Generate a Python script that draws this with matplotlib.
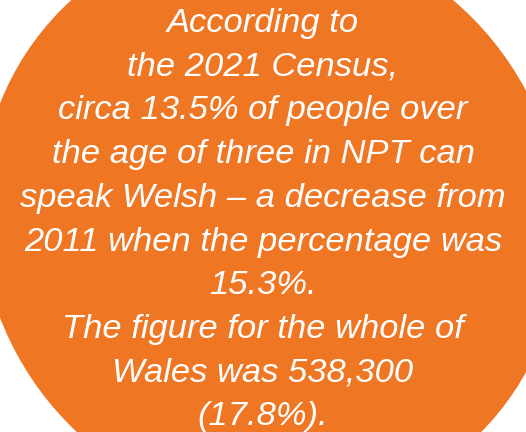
import matplotlib
matplotlib.use("Agg")
import matplotlib.pyplot as plt
from matplotlib.patches import Ellipse

# text lines of the callout
lines = [
    "According to",
    "the 2021 Census,",
    "circa 13.5% of people over",
    "the age of three in NPT can",
    "speak Welsh \u2013 a decrease from",
    "2011 when the percentage was",
    "15.3%.",
    "The figure for the whole of",
    "Wales was 538,300",
    "(17.8%).",
]

W, H = 526, 432
ORANGE = "#EF7622"

fig = plt.figure(figsize=(W/100, H/100), dpi=100)
ax = fig.add_axes([0, 0, 1, 1])
ax.set_xlim(0, W)
ax.set_ylim(H, 0)
ax.set_aspect("equal")
ax.axis("off")

# orange blob, slightly tilted ellipse fitted to the reference rim
ax.add_patch(Ellipse((270.8, 221.3), 595.9, 572.4, angle=-129.1, fc=ORANGE, ec="none"))

y_first, step = 32, 43.7
for i, txt in enumerate(lines):
    ax.text(263, y_first + i*step, txt, ha="center", va="baseline",
            color="white", fontsize=24.8, style="italic",
            family=["Liberation Sans", "DejaVu Sans"])

fig.savefig("out.png", dpi=100)
